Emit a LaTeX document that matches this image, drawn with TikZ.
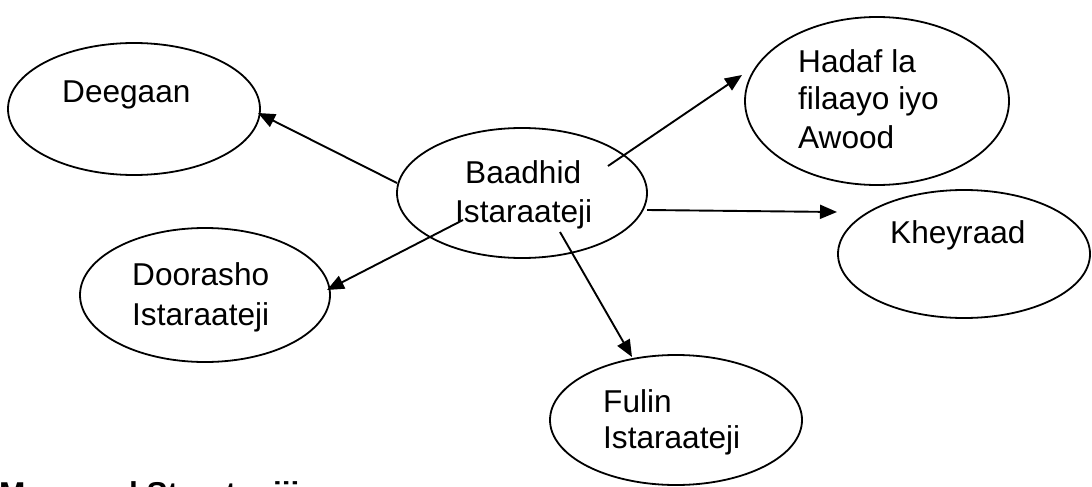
\documentclass[tikz,border=0pt]{standalone}
\usepackage{fontspec}
\setmainfont{Liberation Sans}
\usetikzlibrary{arrows.meta,shapes.geometric}
\tikzset{
  bubble/.style={draw, ellipse, line width=1.8pt, inner sep=0pt},
  lbl/.style={anchor=base west, inner sep=0pt, font=\fontsize{31.6}{38}\selectfont},
  link/.style={line width=1.9pt, -{Triangle[length=17pt,width=14pt]}},
}
\begin{document}
\begin{tikzpicture}[x=1pt,y=-1pt]
\useasboundingbox (0,0) rectangle (1092,487);
\clip (0,0) rectangle (1092,487);
\fill[white] (0,0) rectangle (1092,487);
% ellipses
\node[bubble, minimum width=252pt, minimum height=132pt] (deegaan) at (134,109) {};
\node[bubble, minimum width=250pt, minimum height=130pt] (baadhid) at (522,193) {};
\node[bubble, minimum width=264pt, minimum height=168pt] (hadaf) at (877,101) {};
\node[bubble, minimum width=252pt, minimum height=128pt] (kheyraad) at (964,254) {};
\node[bubble, minimum width=250pt, minimum height=134pt] (doorasho) at (205,295) {};
\node[bubble, minimum width=252pt, minimum height=130pt] (fulin) at (676,420) {};
% labels
\node[lbl] (tdeeg) at (62,102) {Deegaan};
\node[lbl] (tbaa1) at (465,183) {Baadhid};
\node[lbl] (tbaa2) at (455,222) {Istaraateji};
\node[lbl] (thad1) at (798,72) {Hadaf la};
\node[lbl] (thad2) at (798,110) {filaayo iyo};
\node[lbl] (thad3) at (798,148) {Awood};
\node[lbl] (tkhey) at (890,243) {Kheyraad};
\node[lbl] (tdoo1) at (132,285) {Doorasho};
\node[lbl] (tdoo2) at (132,325) {Istaraateji};
\node[lbl] (tful1) at (603,412) {Fulin};
\node[lbl] (tful2) at (603,448) {Istaraateji};
\node[lbl, font=\fontsize{31.6}{38}\selectfont\bfseries] (title) at (-1,504) {Muuqaad Starategiji};
% connector ends
\coordinate (s1) at (397,183); \coordinate (e1) at (258,113);
\coordinate (s2) at (463,220); \coordinate (e2) at (327,290);
\coordinate (s3) at (608,166); \coordinate (e3) at (742,75);
\coordinate (s4) at (647,210); \coordinate (e4) at (837,212);
\coordinate (s5) at (560,232); \coordinate (e5) at (632,357);
\draw[link] (s1) -- (e1);
\draw[link] (s2) -- (e2);
\draw[link] (s3) -- (e3);
\draw[link] (s4) -- (e4);
\draw[link] (s5) -- (e5);
\end{tikzpicture}
\end{document}
